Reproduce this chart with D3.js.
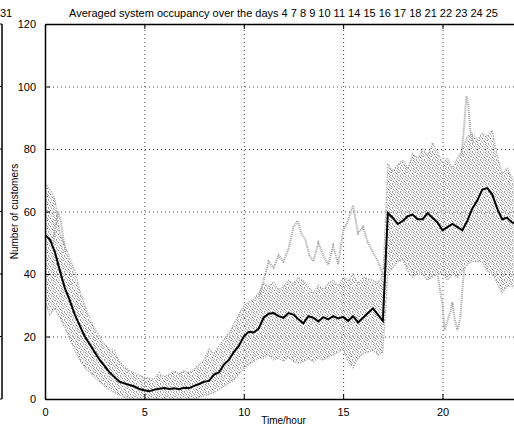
<!DOCTYPE html>
<html>
<head>
<meta charset="utf-8">
<script src="https://cdn.jsdelivr.net/npm/d3@7"></script>
<style>
  body { margin: 0; background: #fff; }
  text { font-family: "Liberation Sans", Arial, sans-serif; }
</style>
</head>
<body>
<div id="chart"></div>
<script>
// averaged occupancy, one value every quarter hour from 0 to 24
const meanValues = [
  52.5, 51, 47, 41,   35.5, 31.5, 27, 23.5,   20, 17.5, 15, 12.5,   10.5, 8.5, 7, 5.5,
  5, 4.5, 4, 3.2,     2.8, 2.5, 3, 3.3,       3.5, 3.2, 3.4, 3.1,   3.6, 3.5, 4.2, 4.8,
  5.5, 5.8, 7.8, 8.5, 11, 12.5, 15, 17,       20, 21.5, 21.3, 22.5, 26, 27.3, 27.5, 26.5,
  26, 27.5, 27, 25.5, 24.2, 26.5, 26, 24.8,   26.2, 25.5, 26.5, 25.8, 26.3, 25, 26.5, 24.5,
  26, 27.5, 29, 27,   25, 59.5, 58, 56,       57, 58.5, 59, 57.5,   57.5, 59.5, 58, 56.5,
  54, 55, 56, 55,     54, 57, 61, 63.5,       67, 67.5, 65.5, 61,   57.5, 58, 56.5, 56,
  55
];
// spread of the single days (top / bottom of the grey band)
const bandUpper = [
  69, 67, 64, 53,     49, 45, 41, 35,         30, 26, 22.5, 20,     17.5, 16, 15.5, 12,
  10.5, 9, 8.5, 7.5,  7, 6.5, 6.5, 8.5,       7, 8, 9, 8,           9, 8.5, 9.5, 11,
  12.5, 16, 14.5, 17, 19, 21, 24, 27,         30, 31, 32, 34,       37, 36, 37.5, 35,
  36, 38, 37, 39,     38, 36, 34, 36.5,       35, 37, 38, 36,       39, 38, 40, 37,
  39, 38.5, 38, 37,   40, 75, 73, 75,         76.5, 74, 78.5, 77,   80, 78, 82, 79,
  75.5, 77, 74, 77,   80, 84, 85, 83,         85, 84, 86, 78,       72, 74, 71, 70,
  66
];
const bandLower = [
  31, 27, 29, 26,     23, 19, 15.5, 12.5,     10, 8.5, 7, 5.5,      4, 3, 2, 1.2,
  0.6, 0, 0, 0,       0, 0, 0, 0,             0, 0, 0, 0,           0, 0, 0, 0.5,
  1, 1.5, 2, 3,       4, 5, 6, 8,             9.5, 11, 12, 13,      13, 14, 12.5, 13,
  12, 13.5, 12, 11.5, 12, 13, 12, 13,         12.5, 13.5, 14, 15,   16, 12, 10, 13,
  14.5, 15, 15.5, 14, 15, 40, 42, 44,         44.5, 41, 39, 40,     40, 38, 39, 40,
  40, 38, 40, 39,     41, 43, 44, 44,         44, 41, 40, 37,       34, 36, 36, 35,
  35
];
// days that leave the band: [hour, customers]
const dayEarly = [[0.4, 50], [0.55, 56], [0.65, 60], [0.8, 57], [0.9, 52], [1.05, 47]];
const dayHigh = [
  [10.75, 32], [11, 38], [11.25, 44], [11.5, 42], [11.75, 46], [12, 44], [12.25, 48],
  [12.5, 55], [12.7, 57], [12.9, 53], [13.1, 51], [13.3, 46], [13.5, 44], [13.75, 50],
  [14, 46], [14.25, 43], [14.5, 49], [14.75, 43], [15, 54], [15.25, 57], [15.5, 62],
  [15.75, 53], [16, 55], [16.25, 50], [16.5, 47], [16.75, 44], [17, 40]
];
const dayLow = [
  [19.75, 40], [20, 30], [20.1, 22], [20.25, 25], [20.4, 28], [20.5, 31], [20.6, 26],
  [20.75, 22], [20.9, 26], [21, 35], [21.1, 42]
];
const daySpike = [[20.95, 78], [21.1, 88], [21.2, 97], [21.3, 94], [21.4, 86], [21.55, 82]];

const xTicks = [0, 5, 10, 15, 20];
const yTicks = [0, 20, 40, 60, 80, 100, 120];
const title = "Averaged system occupancy over the days 4 7 8 9 10 11 14 15 16 17 18 21 22 23 24 25";

const width = 514;
const height = 428;
const margin = {top: 24, right: -8, bottom: 29, left: 45};

const hours = d3.range(meanValues.length).map(i => i * 0.25);

const svg = d3.select('#chart')
  .append('svg')
  .attr('width', width)
  .attr('height', height);

const x = d3.scaleLinear()
  .domain([0, 24])
  .range([margin.left, width - margin.right]);

const y = d3.scaleLinear()
  .domain([0, 120])
  .range([height - margin.bottom, margin.top]);

// speckle pattern for the grey band (irregular 8x8 tile)
const defs = svg.append('defs');
const pat = defs.append('pattern')
  .attr('id', 'speckle')
  .attr('patternUnits', 'userSpaceOnUse')
  .attr('width', 8).attr('height', 8);
const dots = [
  [0,0,'#a8a8a8'],[3,0,'#bdbdbd'],[5,0,'#8f8f8f'],[1,1,'#b8b8b8'],[6,1,'#a0a0a0'],
  [2,2,'#777'],[4,2,'#c4c4c4'],[7,2,'#a5a5a5'],[0,3,'#b2b2b2'],[5,3,'#9c9c9c'],
  [3,4,'#b0b0b0'],[6,4,'#c2c2c2'],[7,4,'#8a8a8a'],[1,5,'#a3a3a3'],[4,5,'#6e6e6e'],
  [2,6,'#bbbbbb'],[5,6,'#a9a9a9'],[0,7,'#959595'],[3,7,'#c0c0c0'],[6,7,'#b5b5b5']
];
dots.forEach(p => {
  pat.append('rect').attr('x', p[0]).attr('y', p[1]).attr('width', 1).attr('height', 1).attr('fill', p[2]);
});

defs.append('clipPath').attr('id', 'plot-clip')
  .append('rect')
  .attr('x', x(0)).attr('y', y(120))
  .attr('width', x(24) - x(0)).attr('height', y(0) - y(120));

// grid
const grid = svg.append('g')
  .attr('stroke', '#444')
  .attr('stroke-width', 1)
  .attr('stroke-dasharray', '1,3');
grid.selectAll('.gx').data(xTicks.slice(1)).join('line')
  .attr('x1', d => x(d) + 0.5).attr('x2', d => x(d) + 0.5)
  .attr('y1', y(0)).attr('y2', y(120));
grid.selectAll('.gy').data(yTicks.slice(1, -1)).join('line')
  .attr('x1', x(0)).attr('x2', x(24))
  .attr('y1', d => y(d) + 0.5).attr('y2', d => y(d) + 0.5);

const plot = svg.append('g').attr('clip-path', 'url(#plot-clip)');

// grey band of the single days
const band = d3.area()
  .x((d, i) => x(hours[i]))
  .y0((d, i) => y(bandLower[i]))
  .y1((d, i) => y(bandUpper[i]));

plot.append('path')
  .datum(meanValues)
  .attr('d', band)
  .attr('fill', 'url(#speckle)');

const edge = d3.line().x((d, i) => x(hours[i])).y(d => y(d));
[bandUpper, bandLower].forEach(arr => {
  plot.append('path')
    .datum(arr)
    .attr('d', edge)
    .attr('fill', 'none')
    .attr('stroke', '#9a9a9a')
    .attr('stroke-width', 1.2)
    .attr('stroke-dasharray', '1,1.5');
});

const dayLine = d3.line().x(d => x(d[0])).y(d => y(d[1]));
[dayEarly, dayHigh, dayLow, daySpike].forEach(day => {
  plot.append('path')
    .datum(day)
    .attr('d', dayLine)
    .attr('fill', 'none')
    .attr('stroke', '#a0a0a0')
    .attr('stroke-width', 2)
    .attr('stroke-dasharray', '1,1');
});

// mean line
plot.append('path')
  .datum(meanValues)
  .attr('d', edge)
  .attr('fill', 'none')
  .attr('stroke', '#000')
  .attr('stroke-width', 2);

// axes (matlab style, ticks inside)
const xAxis = g => g
  .attr('transform', `translate(0, ${y(0)})`)
  .call(d3.axisBottom(x).tickValues(xTicks).tickSizeInner(-5).tickSizeOuter(0).tickPadding(9));
const xTop = g => g
  .attr('transform', `translate(0, ${y(120)})`)
  .call(d3.axisTop(x).tickValues(xTicks).tickSizeInner(-5).tickSizeOuter(0).tickFormat(''));
const yAxis = g => g
  .attr('transform', `translate(${x(0)}, 0)`)
  .call(d3.axisLeft(y).tickValues(yTicks).tickSizeInner(-5).tickSizeOuter(0).tickPadding(9));

[xAxis, xTop, yAxis].forEach(fn => {
  const g = svg.append('g').call(fn);
  g.selectAll('.domain').attr('stroke', '#000').attr('stroke-width', 1.5);
  g.selectAll('.tick line').attr('stroke', '#000');
  g.selectAll('.tick text')
    .attr('font-size', 11)
    .attr('font-family', '"Liberation Sans", Arial, sans-serif')
    .attr('fill', '#000');
});

svg.append('text')
  .attr('x', (x(0) + x(24)) / 2)
  .attr('y', 17)
  .attr('text-anchor', 'middle')
  .attr('font-size', 11)
  .text(title);

svg.append('text')
  .attr('x', (x(0) + x(24)) / 2)
  .attr('y', 424)
  .attr('text-anchor', 'middle')
  .attr('font-size', 10)
  .text('Time/hour');

svg.append('text')
  .attr('transform', `translate(18, ${(y(0) + y(120)) / 2}) rotate(-90)`)
  .attr('text-anchor', 'middle')
  .attr('font-size', 10)
  .text('Number of customers');

// edge of the neighbouring figure at the left
const left = svg.append('g');
left.append('line')
  .attr('x1', 2).attr('x2', 2)
  .attr('y1', y(120)).attr('y2', y(0))
  .attr('stroke', '#000').attr('stroke-width', 1.5);
left.selectAll('.lt').data(yTicks).join('line')
  .attr('x1', -3).attr('x2', 2)
  .attr('y1', d => y(d)).attr('y2', d => y(d))
  .attr('stroke', '#000');
left.append('text')
  .attr('x', 0).attr('y', 17)
  .attr('text-anchor', 'start')
  .attr('font-size', 11)
  .text('31');
</script>
</body>
</html>
